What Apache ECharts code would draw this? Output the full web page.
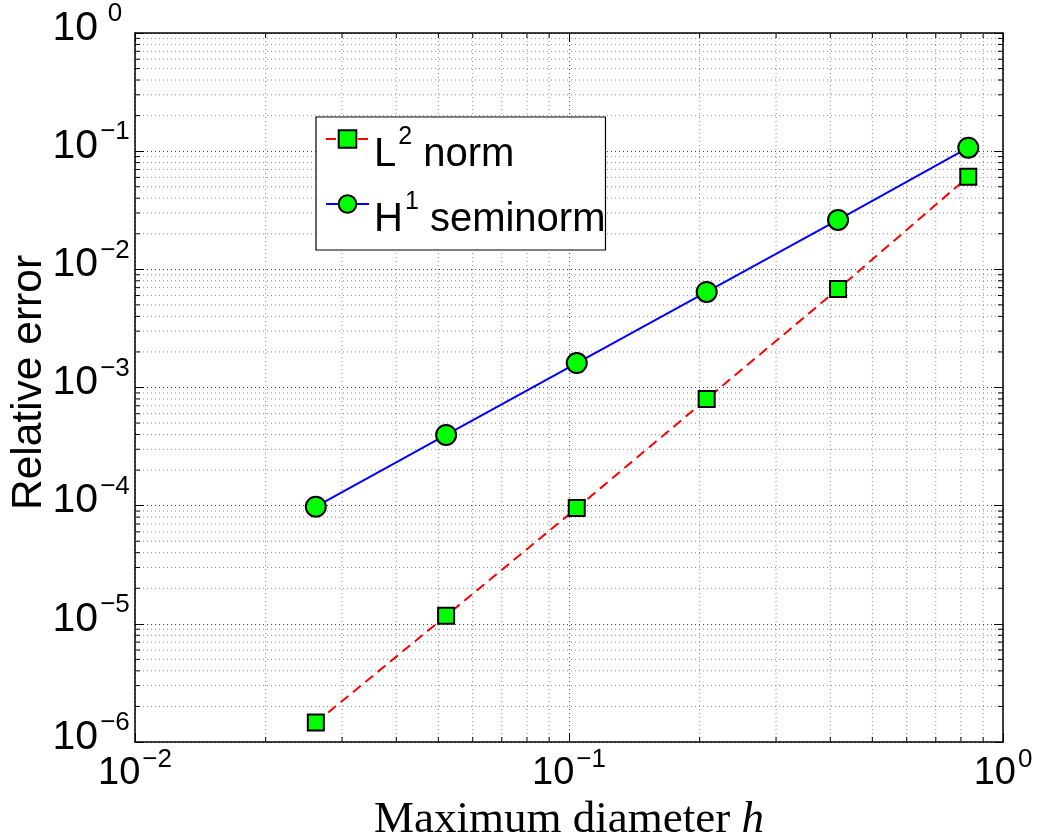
<!DOCTYPE html>
<html>
<head>
<meta charset="utf-8">
<script src="https://cdn.jsdelivr.net/npm/echarts@6/dist/echarts.min.js"></script>
<style>
  html, body { margin: 0; padding: 0; background: #fff; }
  #chart { width: 1038px; height: 837px; }
</style>
</head>
<body>
<div id="chart"></div>
<script>
// Mesh size h for each refinement level
const meshSize = [0.0261, 0.0521, 0.1042, 0.2076, 0.4168, 0.8318];
// Relative errors measured in the two norms
const errL2 = [1.46e-6, 1.17e-5, 9.55e-5, 8.0e-4, 6.82e-3, 6.08e-2];
const errH1 = [9.8e-5, 3.97e-4, 1.61e-3, 6.44e-3, 2.62e-2, 1.07e-1];

const seriesNames = ['L2 norm', 'H1 seminorm'];
const legendLabels = ['{b|L}{s|2}{b| norm}', '{b|H}{s|1}{b| seminorm}'];

// Axis ranges (decades) and minor tick positions
const xRange = [1e-2, 1];
const yRange = [1e-6, 1];
const xMinor = [];
for (let e = -2; e < 0; e++) for (let m = 2; m <= 9; m++) xMinor.push(m * Math.pow(10, e));
const yMinor = [];
for (let e = -6; e < 0; e++) for (let m = 2; m <= 9; m++) yMinor.push(m * Math.pow(10, e));

const FONT = 'Liberation Sans';
const expText = v => {
  const e = Math.round(Math.log10(v));
  return e < 0 ? '\u2212' + (-e) : String(e);
};
// Base text pushed down by padding, exponent pinned near the top of the line.
const richX = {
  b: { fontFamily: FONT, fontSize: 38, lineHeight: 60, padding: [8, 0, 8, 0], verticalAlign: 'top', color: '#000' },
  s: { fontFamily: FONT, fontSize: 26, lineHeight: 26, padding: [0, 0, 0, 2], verticalAlign: 'top', color: '#000' }
};
const richY = {
  b: { fontFamily: FONT, fontSize: 41, lineHeight: 64, padding: [7, 0, 7, 0], verticalAlign: 'top', color: '#000' },
  s: { fontFamily: FONT, fontSize: 26, lineHeight: 26, padding: [0, 0, 0, 2], width: 30, align: 'left', verticalAlign: 'top', color: '#000' }
};
const richLegend = {
  b: { fontFamily: FONT, fontSize: 40, lineHeight: 40, padding: [16, 0, 8, 0], verticalAlign: 'top', color: '#000' },
  s: { fontFamily: FONT, fontSize: 25, lineHeight: 25, padding: [6, 0, 0, 2], verticalAlign: 'top', color: '#000' }
};

const gridStroke = '#444';
const minorStroke = '#8a8a8a';

function minorX(params, api) {
  const cs = params.coordSys;
  const x = api.coord([api.value(0), yRange[1]])[0];
  const top = cs.y, bot = cs.y + cs.height;
  return {
    type: 'group',
    children: [
      { type: 'line', shape: { x1: x, y1: top, x2: x, y2: bot },
        style: { stroke: minorStroke, lineWidth: 1, lineDash: [1, 3] } },
      { type: 'line', shape: { x1: x, y1: bot, x2: x, y2: bot - 5 }, style: { stroke: '#000', lineWidth: 1 } },
      { type: 'line', shape: { x1: x, y1: top, x2: x, y2: top + 5 }, style: { stroke: '#000', lineWidth: 1 } }
    ]
  };
}
function minorY(params, api) {
  const cs = params.coordSys;
  const y = api.coord([xRange[0], api.value(1)])[1];
  const l = cs.x, r = cs.x + cs.width;
  return {
    type: 'group',
    children: [
      { type: 'line', shape: { x1: l, y1: y, x2: r, y2: y },
        style: { stroke: minorStroke, lineWidth: 1, lineDash: [1, 3] } },
      { type: 'line', shape: { x1: l, y1: y, x2: l + 5, y2: y }, style: { stroke: '#000', lineWidth: 1 } },
      { type: 'line', shape: { x1: r, y1: y, x2: r - 5, y2: y }, style: { stroke: '#000', lineWidth: 1 } }
    ]
  };
}

const axisLineStyle = { show: true, lineStyle: { color: '#000', width: 1.5 } };
const tickInside = { show: true, inside: true, length: 9, lineStyle: { color: '#000', width: 1 } };

const chart = echarts.init(document.getElementById('chart'));
chart.setOption({
  animation: false,
  backgroundColor: '#fff',
  grid: { left: 135, right: 35, top: 33, bottom: 95, containLabel: false, outerBoundsMode: 'none' },
  legend: {
    data: seriesNames,
    orient: 'vertical',
    left: 316,
    top: 117,
    padding: [2, 0, 2, 9],
    itemGap: 1,
    itemWidth: 43,
    itemHeight: 22,
    itemTextGap: 6,
    backgroundColor: '#fff',
    borderColor: '#000',
    borderWidth: 1.2,
    formatter: name => legendLabels[seriesNames.indexOf(name)],
    textStyle: { rich: richLegend }
  },
  xAxis: [
    {
      type: 'log', logBase: 10, min: xRange[0], max: xRange[1], splitNumber: 2,
      name: 'Maximum diameter {i|h}',
      nameLocation: 'middle', nameGap: 56, nameMoveOverlap: false,
      nameTextStyle: {
        fontFamily: 'Liberation Serif', fontSize: 45, color: '#000',
        rich: { i: { fontFamily: 'Liberation Serif', fontStyle: 'italic', fontSize: 45, color: '#000' } }
      },
      axisLine: axisLineStyle, axisTick: tickInside,
      axisLabel: { margin: 5, formatter: v => '{b|10}{s|' + expText(v) + '}', rich: richX,
                   showMinLabel: true, showMaxLabel: true },
      splitLine: { show: true, lineStyle: { color: gridStroke, width: 1, type: [1, 3] } }
    },
    {
      type: 'log', logBase: 10, min: xRange[0], max: xRange[1], splitNumber: 2, position: 'top',
      axisLine: axisLineStyle, axisTick: tickInside, axisLabel: { show: false }, splitLine: { show: false }
    }
  ],
  yAxis: [
    {
      type: 'log', logBase: 10, min: yRange[0], max: yRange[1], splitNumber: 6,
      name: 'Relative error',
      nameLocation: 'middle', nameGap: 84, nameMoveOverlap: false,
      nameTextStyle: { fontFamily: FONT, fontSize: 42.5, color: '#000', padding: [0, 0, 0, 10] },
      axisLine: axisLineStyle, axisTick: tickInside,
      axisLabel: { margin: 5, formatter: v => '{b|10}{s|' + expText(v) + '}', rich: richY,
                   showMinLabel: true, showMaxLabel: true },
      splitLine: { show: true, lineStyle: { color: gridStroke, width: 1, type: [1, 3] } }
    },
    {
      type: 'log', logBase: 10, min: yRange[0], max: yRange[1], splitNumber: 6, position: 'right',
      axisLine: axisLineStyle, axisTick: tickInside, axisLabel: { show: false }, splitLine: { show: false }
    }
  ],
  series: [
    {
      type: 'custom', name: 'xMinorGrid', silent: true, z: 1,
      xAxisIndex: 0, yAxisIndex: 0,
      data: xMinor.map(v => [v, yRange[1]]),
      encode: { x: 0, y: 1 },
      renderItem: minorX
    },
    {
      type: 'custom', name: 'yMinorGrid', silent: true, z: 1,
      xAxisIndex: 0, yAxisIndex: 0,
      data: yMinor.map(v => [xRange[0], v]),
      encode: { x: 0, y: 1 },
      renderItem: minorY
    },
    {
      type: 'line', name: seriesNames[0], z: 3,
      data: meshSize.map((h, i) => [h, errL2[i]]),
      symbol: 'rect', symbolSize: 16,
      itemStyle: { color: '#00ff00', borderColor: '#000', borderWidth: 2 },
      lineStyle: { color: '#ff0000', width: 2, type: [10, 6] }
    },
    {
      type: 'line', name: seriesNames[1], z: 4,
      data: meshSize.map((h, i) => [h, errH1[i]]),
      symbol: 'circle', symbolSize: 20,
      itemStyle: { color: '#00ff00', borderColor: '#000', borderWidth: 2 },
      lineStyle: { color: '#0000ff', width: 2 }
    }
  ]
});
</script>
</body>
</html>
